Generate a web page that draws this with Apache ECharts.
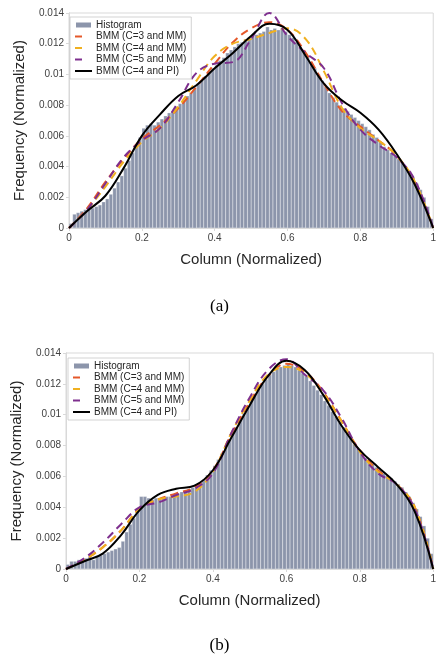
<!DOCTYPE html>
<html>
<head>
<meta charset="utf-8">
<script src="https://cdn.jsdelivr.net/npm/echarts@6/dist/echarts.min.js"></script>
<style>
html,body{margin:0;padding:0;background:#fff;}
#c{width:439px;height:657px;}
</style>
</head>
<body>
<div id="c"></div>
<script>
// ---------- data ----------
const binCenters = Array.from({length:100},(_,i)=>+(0.005+0.01*i).toFixed(3));
const xTicks = [0,0.2,0.4,0.6,0.8,1];
const yTicks = [0,0.002,0.004,0.006,0.008,0.01,0.012,0.014];
const curveX = [0,0.05,0.1,0.15,0.2,0.25,0.3,0.35,0.4,0.45,0.5,0.55,0.6,0.65,0.7,0.75,0.8,0.85,0.9,0.95,1];

const histA = [
0.0003,0.0009,0.0010,0.0011,0.0012,0.0012,0.0013,0.0014,0.0015,0.0017,
0.0019,0.0022,0.0026,0.0030,0.0034,0.0039,0.0044,0.0049,0.0054,0.0059,
0.0065,0.0067,0.0068,0.0067,0.0069,0.0071,0.0073,0.0075,0.0076,0.0079,
0.0081,0.0083,0.0086,0.0088,0.0091,0.0094,0.0096,0.0099,0.0101,0.0104,
0.0106,0.0109,0.0111,0.0114,0.0116,0.0118,0.0120,0.0121,0.0123,0.0124,
0.0125,0.0126,0.0127,0.0128,0.0131,0.0129,0.0130,0.0129,0.0130,0.0128,
0.0126,0.0124,0.0121,0.0118,0.0115,0.0112,0.0108,0.0104,0.0100,0.0096,
0.0092,0.0088,0.0085,0.0082,0.0080,0.0078,0.0076,0.0074,0.0072,0.0070,
0.0068,0.0066,0.0064,0.0061,0.0059,0.0056,0.0053,0.0051,0.0049,0.0047,
0.0045,0.0043,0.0040,0.0037,0.0033,0.0029,0.0025,0.0020,0.0014,0.0006];

const histB = [
0.0003,0.0005,0.0005,0.0006,0.0006,0.0007,0.0008,0.0006,0.0008,0.0009,
0.0010,0.0011,0.0012,0.0013,0.0014,0.0018,0.0024,0.0029,0.0033,0.0038,
0.0047,0.0047,0.0046,0.0045,0.0046,0.0045,0.0046,0.0047,0.0047,0.0048,
0.0049,0.0050,0.0051,0.0052,0.0053,0.0055,0.0056,0.0058,0.0061,0.0064,
0.0067,0.0071,0.0075,0.0079,0.0084,0.0088,0.0092,0.0097,0.0101,0.0105,
0.0109,0.0113,0.0117,0.0120,0.0123,0.0126,0.0128,0.0130,0.0131,0.0132,
0.0133,0.0132,0.0131,0.0129,0.0127,0.0125,0.0122,0.0119,0.0116,0.0113,
0.0109,0.0106,0.0102,0.0099,0.0095,0.0092,0.0088,0.0085,0.0081,0.0078,
0.0075,0.0072,0.0070,0.0068,0.0066,0.0064,0.0062,0.0061,0.0059,0.0057,
0.0055,0.0053,0.0050,0.0047,0.0043,0.0039,0.0034,0.0028,0.0020,0.0010];

const c3A = [0,0.0013,0.0030,0.0045,0.0058,0.0067,0.0078,0.0092,0.0107,0.0121,0.0130,0.0134,0.0129,0.0114,0.0094,0.0076,0.0066,0.0057,0.0047,0.0029,0];
const c4A = [0,0.0012,0.0027,0.0043,0.0056,0.0065,0.0079,0.0096,0.0112,0.0120,0.0123,0.0127,0.0130,0.0123,0.0102,0.0078,0.0065,0.0057,0.0047,0.0030,0];
const c5A = [0,0.0012,0.0029,0.0046,0.0057,0.0065,0.0082,0.0101,0.0107,0.0108,0.0123,0.0140,0.0125,0.0114,0.0104,0.0081,0.0064,0.0054,0.0046,0.0031,0];
const piA = [0,0.0011,0.0021,0.0039,0.0060,0.0074,0.0086,0.0093,0.0104,0.0114,0.0125,0.0133,0.0129,0.0112,0.0094,0.0083,0.0075,0.0064,0.0048,0.0028,0];

const c3B = [0,0.0006,0.0014,0.0025,0.0039,0.0045,0.0049,0.0053,0.0064,0.0087,0.0108,0.0125,0.0133,0.0128,0.0115,0.0096,0.0077,0.0064,0.0055,0.0040,0];
const c4B = [0,0.0006,0.0014,0.0025,0.0039,0.0045,0.0047,0.0050,0.0063,0.0088,0.0109,0.0126,0.0131,0.0127,0.0114,0.0096,0.0076,0.0063,0.0055,0.0040,0];
const c5B = [0,0.0007,0.0017,0.0029,0.0040,0.0043,0.0048,0.0052,0.0062,0.0088,0.0111,0.0129,0.0136,0.0126,0.0116,0.0098,0.0076,0.0062,0.0055,0.0039,0];
const piB = [0,0.0005,0.0010,0.0022,0.0038,0.0048,0.0052,0.0054,0.0064,0.0085,0.0106,0.0125,0.0135,0.0129,0.0113,0.0093,0.0077,0.0066,0.0055,0.0037,0];

const names = ['Histogram','BMM (C=3 and MM)','BMM (C=4 and MM)','BMM (C=5 and MM)','BMM (C=4 and PI)'];
const colors = ['#8c95ab','#e5582a','#f0b020','#7e2f8e','#000000'];
// ---------- chart ----------
const FONT = '"Liberation Sans", Arial, sans-serif';
const boxColor = '#d9d9d9';
const pair = (xs, ys) => xs.map((x,i)=>[x, ys[i]]);

function axesFor(gi){
  return {
    x: [{
      gridIndex: gi, type:'value', min:0, max:1, interval:0.2,
      name:'Column (Normalized)', nameLocation:'middle', nameGap:24,
      nameTextStyle:{fontFamily:FONT, fontSize:15, color:'#262626'},
      axisLine:{show:true, lineStyle:{color:boxColor}},
      axisTick:{show:false},
      axisLabel:{fontFamily:FONT, fontSize:10, color:'#404040', margin:5,
        alignMaxLabel:'center', alignMinLabel:'center',
        formatter: v => String(+v.toFixed(1))},
      splitLine:{show:false}
    },{
      gridIndex: gi, type:'value', min:0, max:1, interval:0.2, position:'top',
      axisLine:{show:true, lineStyle:{color:boxColor}},
      axisTick:{show:true, inside:true, length:3, lineStyle:{color:boxColor}},
      axisLabel:{show:false}, splitLine:{show:false}
    }],
    y: [{
      gridIndex: gi, type:'value', min:0, max:0.014, interval:0.002,
      name:'Frequency (Normalized)', nameLocation:'middle', nameGap:42,
      nameTextStyle:{fontFamily:FONT, fontSize:15, color:'#262626'},
      axisLine:{show:true, lineStyle:{color:boxColor}},
      axisTick:{show:false},
      axisLabel:{fontFamily:FONT, fontSize:10, color:'#404040', margin:5,
        formatter: v => String(+v.toFixed(3))},
      splitLine:{show:false}
    },{
      gridIndex: gi, type:'value', min:0, max:0.014, interval:0.002, position:'right',
      axisLine:{show:true, lineStyle:{color:boxColor}},
      axisTick:{show:true, inside:true, length:3, lineStyle:{color:boxColor}},
      axisLabel:{show:false}, splitLine:{show:false}
    }]
  };
}
const A0 = axesFor(0), A1 = axesFor(1);

function seriesFor(gi, hist, c3, c4, c5, pi){
  const xi = gi*2, yi = gi*2;
  const lineBase = (name, data, color, dashed) => ({
    name, type:'line', xAxisIndex:xi, yAxisIndex:yi, data: pair(curveX, data),
    smooth:0.4, showSymbol:false, symbol:'none', z:3,
    lineStyle:{color, width:2, type: dashed ? [8,5] : 'solid'},
    itemStyle:{color}
  });
  return [
    {name:names[0], type:'bar', xAxisIndex:xi, yAxisIndex:yi, data: pair(binCenters, hist),
     barWidth:'100%', itemStyle:{color:colors[0], borderColor:'#ffffff', borderWidth:0.25}, z:2},
    lineBase(names[1], c3, colors[1], true),
    lineBase(names[2], c4, colors[2], true),
    lineBase(names[3], c5, colors[3], true),
    lineBase(names[4], pi, colors[4], false)
  ];
}

const hiddenSym = {color:'rgba(0,0,0,0)', borderColor:'rgba(0,0,0,0)', borderWidth:0, opacity:0};
const legendData = names.map((n,i)=> i===0 ? {name:n, icon:'rect'} :
  (i===4 ? {name:n, itemStyle:hiddenSym} : {name:n, itemStyle:hiddenSym, lineStyle:{type:[7,30]}}));
function legendAt(left, top){
  return {
    orient:'vertical', left, top, data: legendData,
    itemWidth:17, itemHeight:7, itemGap:1.5,
    padding:[3,5,3,4], backgroundColor:'#fff', borderColor:'#c8c8c8', borderWidth:0.8,
    borderRadius:0,
    textStyle:{fontFamily:FONT, fontSize:10, color:'#262626', padding:[0,0,0,-1]},
    selectedMode:false
  };
}

const chart = echarts.init(document.getElementById('c'), null, {renderer:'canvas'});
chart.setOption({
  animation:false,
  backgroundColor:'#fff',
  grid:[
    {left:69, top:13, width:369, height:215, show:true, borderColor:boxColor, borderWidth:1},
    {left:66, top:353, width:371, height:216, show:true, borderColor:boxColor, borderWidth:1}
  ],
  xAxis:[...A0.x, ...A1.x],
  yAxis:[...A0.y, ...A1.y],
  legend:[legendAt(70,17), legendAt(68,358)],
  series:[...seriesFor(0, histA, c3A, c4A, c5A, piA), ...seriesFor(1, histB, c3B, c4B, c5B, piB)],
  graphic:[
    {type:'text', left:'center', top:298, style:{text:'(a)', font:'17px "Liberation Serif", "Times New Roman", serif', fill:'#000'}},
    {type:'text', left:'center', top:637, style:{text:'(b)', font:'17px "Liberation Serif", "Times New Roman", serif', fill:'#000'}}
  ]
});
</script>
</body>
</html>
